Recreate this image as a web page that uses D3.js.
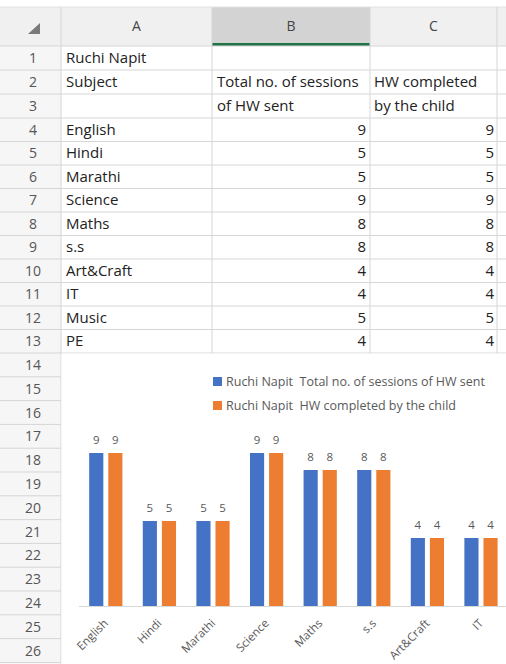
<!DOCTYPE html>
<html><head><meta charset="utf-8">
<script src="https://cdn.jsdelivr.net/npm/d3@7"></script>
<style>
html,body{margin:0;padding:0;background:#fff;overflow:hidden;}
svg{display:block;}
</style></head>
<body>
<svg id="c" width="506" height="664"></svg>
<script>
// ---- data ----
const owner = "Ruchi Napit";
const headerB = ["Total no. of sessions", "of HW sent"];
const headerC = ["HW completed", "by the child"];
const subjects = ["English","Hindi","Marathi","Science","Maths","s.s","Art&Craft","IT","Music","PE"];
const sessionsSent = [9,5,5,9,8,8,4,4,5,4];
const hwCompleted = [9,5,5,9,8,8,4,4,5,4];
const seriesNames = ["Ruchi Napit  Total no. of sessions of HW sent", "Ruchi Napit  HW completed by the child"];
const colLetters = ["A","B","C"];

const svg = d3.select("#c");
const FONT = "'Open Sans', Lato, sans-serif";
const gridCol = "#d6d6d6";
const W = 506;

// ---- sheet geometry ----
const colX = [0, 61, 212, 370, 497, 560];
const headTop = 7, headBot = 46;
const rowEdges = [headBot];
for (let r = 1; r <= 3; r++) rowEdges.push(headBot + r * 24);
for (let r = 4; r <= 13; r++) rowEdges.push(rowEdges[rowEdges.length - 1] + 23.5);
for (let r = 14; r <= 27; r++) rowEdges.push(rowEdges[rowEdges.length - 1] + 23.8);

// header row
svg.append("rect").attr("x", 0).attr("y", headTop).attr("width", W).attr("height", headBot - headTop).attr("fill", "#f0f0f0");
svg.append("rect").attr("x", colX[2]).attr("y", headTop).attr("width", colX[3] - colX[2]).attr("height", headBot - headTop).attr("fill", "#d3d3d3");
svg.append("rect").attr("x", colX[2]).attr("y", headBot - 3).attr("width", colX[3] - colX[2]).attr("height", 3).attr("fill", "#217346");
// row header column
svg.append("rect").attr("x", 0).attr("y", headBot).attr("width", colX[1]).attr("height", 664 - headBot).attr("fill", "#f6f6f6");
// corner triangle
svg.append("path").attr("d", "M28,34 L40,34 L40,23 Z").attr("fill", "#7a7a7a");

// column letters
colLetters.forEach((L, i) => {
  svg.append("text").attr("x", (colX[i + 1] + colX[i + 2]) / 2).attr("y", 31)
    .attr("text-anchor", "middle").attr("font-family", FONT).attr("font-size", 14)
    .attr("fill", "#444").text(L);
});

// horizontal grid lines
rowEdges.forEach((y, i) => {
  svg.append("line").attr("x1", 0).attr("x2", i <= 13 ? W : colX[1]).attr("y1", y).attr("y2", y)
    .attr("stroke", gridCol).attr("stroke-width", 1);
});
svg.append("line").attr("x1", 0).attr("x2", W).attr("y1", headTop).attr("y2", headTop).attr("stroke", "#e2e2e2");
// vertical grid lines
colX.slice(1, 5).forEach(x => {
  svg.append("line").attr("x1", x).attr("x2", x).attr("y1", headTop).attr("y2", 664)
    .attr("stroke", gridCol).attr("stroke-width", 1);
});

// row numbers
for (let r = 1; r <= 26; r++) {
  const yc = (rowEdges[r - 1] + rowEdges[r]) / 2;
  svg.append("text").attr("x", 33).attr("y", yc + 5).attr("text-anchor", "middle")
    .attr("font-family", FONT).attr("font-size", 14).attr("fill", "#555").text(r);
}

// cell text
function cell(r, x, txt, anchor) {
  const yc = (rowEdges[r - 1] + rowEdges[r]) / 2;
  svg.append("text").attr("x", x).attr("y", yc + 5).attr("text-anchor", anchor || "start")
    .attr("font-family", FONT).attr("font-size", 15).attr("fill", "#222").text(txt);
}
cell(1, 66, owner);
cell(2, 66, "Subject");
cell(2, 217, headerB[0]); cell(3, 217, headerB[1]);
cell(2, 374, headerC[0]); cell(3, 374, headerC[1]);
subjects.forEach((s, i) => {
  cell(4 + i, 66, s);
  cell(4 + i, 366, sessionsSent[i], "end");
  cell(4 + i, 494, hwCompleted[i], "end");
});

// ---- chart ----
const chartTop = rowEdges[13];
svg.append("defs").append("clipPath").attr("id", "chartClip")
  .append("rect").attr("x", colX[1]).attr("y", chartTop).attr("width", W - colX[1]).attr("height", 664 - chartTop);
const chart = svg.append("g").attr("clip-path", "url(#chartClip)");
chart.append("rect").attr("x", colX[1] + 0.5).attr("y", chartTop + 0.5).attr("width", W).attr("height", 400).attr("fill", "#fff");

const x0 = d3.scaleBand().domain(subjects).range([79, 615]).paddingInner(0.38).paddingOuter(0.19);
const x1 = d3.scaleBand().domain([0, 1]).range([0, x0.bandwidth()]).paddingInner(0.26);
const y = d3.scaleLinear().domain([0, 10]).range([606, 436]);
const colors = ["#4472C4", "#ED7D31"];
const series = [sessionsSent, hwCompleted];
// only the part of the chart object that fits in the window is visible
const visible = subjects.filter(s => x0(s) + x0.bandwidth() < W);

const g = chart.append("g");
series.forEach((vals, si) => {
  const data = subjects.map((s, i) => ({ s, v: vals[i] })).filter(d => visible.includes(d.s));
  g.selectAll(null).data(data).enter().append("rect")
    .attr("x", d => x0(d.s) + x1(si)).attr("width", x1.bandwidth())
    .attr("y", d => y(d.v)).attr("height", d => y(0) - y(d.v))
    .attr("fill", colors[si]);
  g.selectAll(null).data(data).enter().append("text")
    .attr("x", d => x0(d.s) + x1(si) + x1.bandwidth() / 2)
    .attr("y", d => y(d.v) - 9)
    .attr("text-anchor", "middle").attr("font-family", FONT).attr("font-size", 11.5)
    .attr("fill", "#595959").text(d => d.v);
});

// x axis
const xAxis = d3.axisBottom(x0).tickSize(0).tickPadding(0).tickValues(visible);
const ax = chart.append("g").attr("transform", `translate(0,${y(0)})`).call(xAxis);
ax.select(".domain").attr("stroke", "#d9d9d9").attr("stroke-width", 1).attr("d", `M79,0.5H${W}`);
ax.selectAll(".tick text")
  .attr("font-family", FONT).attr("font-size", 11.6).attr("fill", "#595959")
  .attr("text-anchor", "end").attr("dy", null)
  .attr("transform", "translate(3,18) rotate(-45)");

// legend
const leg = chart.append("g");
seriesNames.forEach((n, i) => {
  const ly = 381.5 + i * 24;
  leg.append("rect").attr("x", 213).attr("y", ly - 4.5).attr("width", 9).attr("height", 9).attr("fill", colors[i]);
  leg.append("text").attr("x", 226).attr("y", ly + 4.5).attr("font-family", FONT).attr("font-size", 12.5)
    .attr("fill", "#595959").style("white-space", "pre").text(n);
});
</script>
</body></html>
